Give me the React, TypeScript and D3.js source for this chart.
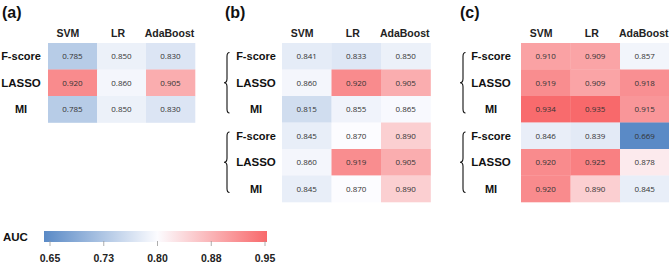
import React from "react";
import * as d3 from "d3";

const methods = ["SVM", "LR", "AdaBoost"];
const selectors = ["F-score", "LASSO", "MI"];
const panelLabels = ["(a)", "(b)", "(c)"];

const panelA = [
  [0.785, 0.85, 0.83],
  [0.92, 0.86, 0.905],
  [0.785, 0.85, 0.83],
];
const panelB = [
  [0.841, 0.833, 0.85],
  [0.86, 0.92, 0.905],
  [0.815, 0.855, 0.865],
  [0.845, 0.87, 0.89],
  [0.86, 0.919, 0.905],
  [0.845, 0.87, 0.89],
];
const panelC = [
  [0.91, 0.909, 0.857],
  [0.919, 0.909, 0.918],
  [0.934, 0.935, 0.915],
  [0.846, 0.839, 0.669],
  [0.92, 0.925, 0.878],
  [0.92, 0.89, 0.845],
];

const legendTicks = [0.65, 0.725, 0.8, 0.875, 0.95];
const legendTickLabels = ["0.65", "0.73", "0.80", "0.88", "0.95"];
const legendMid = 0.8;

const BLUE = "#5A8AC6";
const WHITE = "#FCFCFF";
const RED = "#F8696B";

const allValues = [...panelA, ...panelB, ...panelC].flat();
const vMin = d3.min(allValues) as number;
const vMax = d3.max(allValues) as number;
const vMid = d3.median(allValues) as number;
const color = d3
  .scaleLinear<string>()
  .domain([vMin, vMid, vMax])
  .range([BLUE, WHITE, RED])
  .interpolate(d3.interpolateRgb);

const LABEL_FONT = "'Liberation Sans', Arial, sans-serif";
const NUM_FONT = "'Open Sans', 'Noto Sans', sans-serif";

const panels = [
  { data: panelA, x0: 48, x1: 195, labelX: 2, rowLabelX: 21, braceX: null as number | null },
  { data: panelB, x0: 282, x1: 430.5, labelX: 225, rowLabelX: 256, braceX: 227 },
  { data: panelC, x0: 521, x1: 669.5, labelX: 460, rowLabelX: 491, braceX: 463 },
];
const headerDx = [-4.5, -3.5, -1];
const cellTop = 43;
const rowH = 26.5;

function bracePath(bx: number, y1: number, y2: number) {
  const ym = (y1 + y2) / 2;
  const xm = bx - 3;
  const xe = bx + 2.5;
  return `M${xe},${y1} Q${bx},${y1} ${bx},${y1 + 4} L${bx},${ym - 4} Q${bx},${ym} ${xm},${ym} Q${bx},${ym} ${bx},${ym + 4} L${bx},${y2 - 4} Q${bx},${y2} ${xe},${y2}`;
}

function Panel({ p, idx }: { p: (typeof panels)[number]; idx: number }) {
  const nRows = p.data.length;
  const x = d3.scaleBand<number>().domain(d3.range(3)).range([p.x0, p.x1]);
  const y = d3
    .scaleBand<number>()
    .domain(d3.range(nRows))
    .range([cellTop, cellTop + rowH * nRows]);
  const groups = d3.range(nRows / 3);
  return (
    <g>
      <text x={p.labelX} y={18} fontFamily={LABEL_FONT} fontWeight="bold" fontSize={16} fill="#111">
        {panelLabels[idx]}
      </text>
      {methods.map((m, j) => (
        <text
          key={m}
          x={(x(j) as number) + x.bandwidth() / 2 + headerDx[j]}
          y={37}
          textAnchor="middle"
          fontFamily={LABEL_FONT}
          fontWeight="bold"
          fontSize={10.5}
          fill="#222"
        >
          {m}
        </text>
      ))}
      {p.data.map((row, i) =>
        row.map((v, j) => (
          <g key={`${i}-${j}`}>
            <rect
              x={x(j)}
              y={y(i)}
              width={x.bandwidth() + 0.3}
              height={y.bandwidth() + 0.3}
              fill={color(v)}
            />
            <text
              x={(x(j) as number) + x.bandwidth() / 2}
              y={(y(i) as number) + y.bandwidth() / 2 + 3}
              textAnchor="middle"
              fontFamily={NUM_FONT}
              fontSize={8}
              fill="#333"
            >
              {v.toFixed(3)}
            </text>
          </g>
        ))
      )}
      {p.data.map((_, i) => (
        <text
          key={`rl${i}`}
          x={p.rowLabelX}
          y={(y(i) as number) + y.bandwidth() / 2 + 4}
          textAnchor="middle"
          fontFamily={LABEL_FONT}
          fontWeight="bold"
          fontSize={i % 3 === 1 ? 11.5 : 11}
          fill="#111"
        >
          {selectors[i % 3]}
        </text>
      ))}
      {p.braceX !== null &&
        groups.map((g) => {
          const top = y(g * 3) as number;
          const bottom = (y(g * 3 + 2) as number) + y.bandwidth();
          return (
            <path
              key={`b${g}`}
              d={bracePath(p.braceX as number, top + 9.5, bottom - 9.5)}
              fill="none"
              stroke="#111"
              strokeWidth={1.1}
            />
          );
        })}
    </g>
  );
}

function Legend() {
  const s = d3.scaleLinear().domain([0.65, 0.95]).range([50, 265]);
  const bx0 = s(0.65) - 6;
  const bx1 = s(0.95) + 2;
  const by = 231;
  const bh = 11;
  const midOff = (s(legendMid) - bx0) / (bx1 - bx0);
  return (
    <g>
      <defs>
        <linearGradient id="aucGrad" x1="0" x2="1" y1="0" y2="0">
          <stop offset="0" stopColor={BLUE} />
          <stop offset={midOff} stopColor={WHITE} />
          <stop offset="1" stopColor={RED} />
        </linearGradient>
      </defs>
      <text x={3} y={241} fontFamily={LABEL_FONT} fontWeight="bold" fontSize={11.5} fill="#111">
        AUC
      </text>
      <rect x={bx0} y={by} width={bx1 - bx0} height={bh} fill="url(#aucGrad)" />
      {legendTicks.map((t, i) => (
        <g key={t}>
          <line x1={s(t)} x2={s(t)} y1={by + bh - 1} y2={by + bh + 4} stroke="#999" strokeWidth={0.8} />
          <text
            x={s(t)}
            y={262}
            textAnchor="middle"
            fontFamily={LABEL_FONT}
            fontWeight="bold"
            fontSize={10.5}
            fill="#222"
          >
            {legendTickLabels[i]}
          </text>
        </g>
      ))}
    </g>
  );
}

export default function App() {
  return (
    <svg
      width={669}
      height={264}
      style={{ position: "absolute", left: 0, top: 0, background: "#fff" }}
    >
      <rect width={669} height={264} fill="#fff" />
      {panels.map((p, i) => (
        <Panel key={i} p={p} idx={i} />
      ))}
      <Legend />
    </svg>
  );
}
